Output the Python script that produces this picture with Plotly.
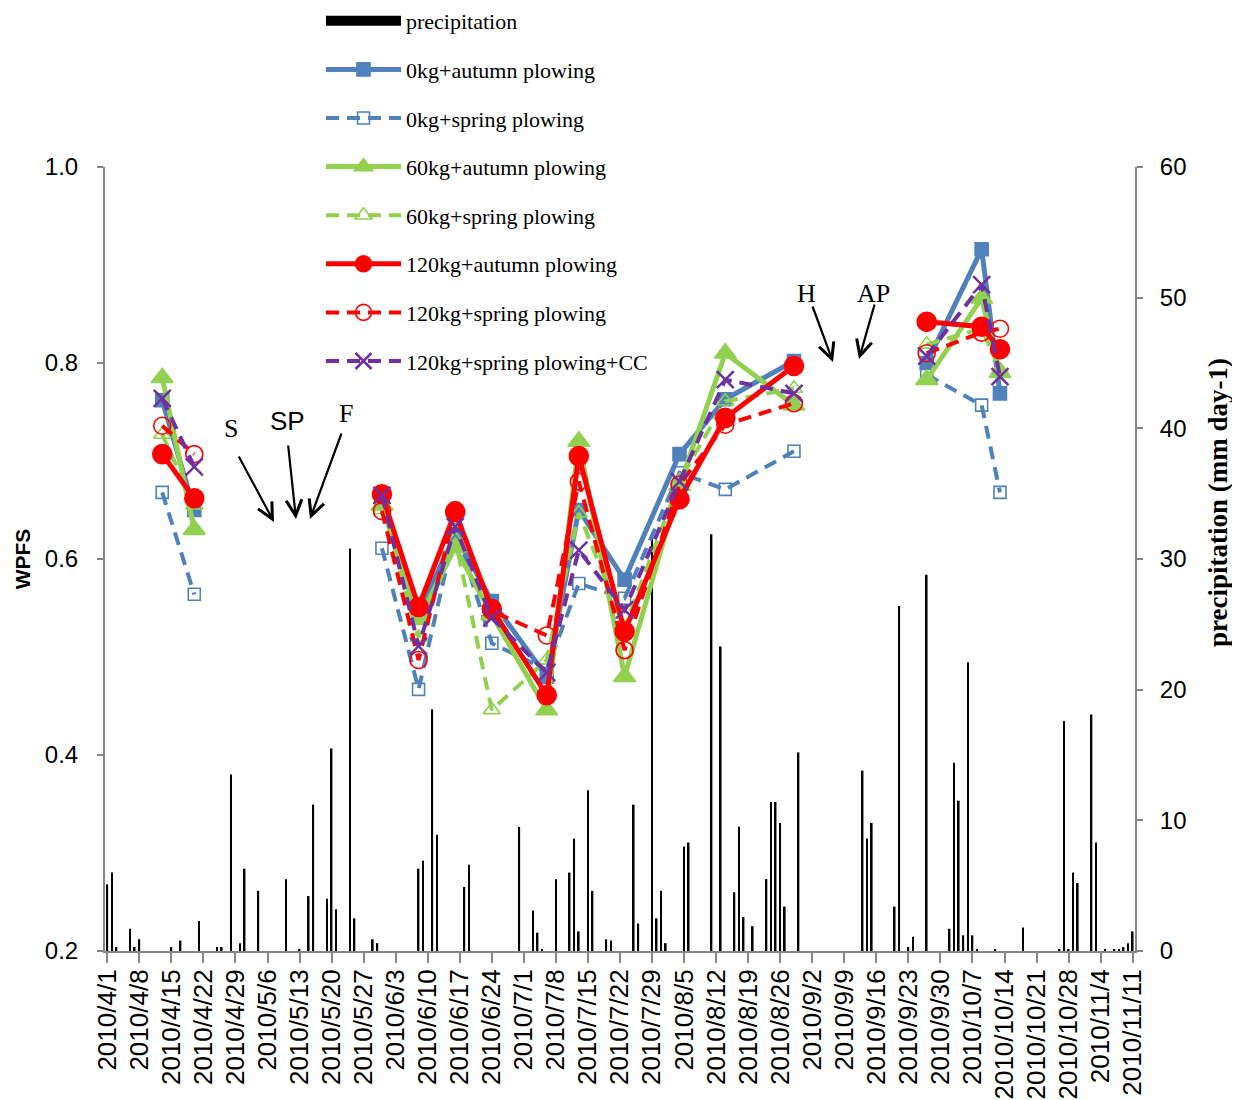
import plotly.graph_objects as go

# ---------------- data ----------------
sample_dates = ['2010-04-13', '2010-04-20',
                '2010-05-31', '2010-06-08', '2010-06-16', '2010-06-24', '2010-07-06',
                '2010-07-13', '2010-07-23', '2010-08-04', '2010-08-14', '2010-08-29',
                '2010-09-27', '2010-10-09', '2010-10-13']
group_breaks = [2, 12]  # a gap in the lines before these indices

wpfs_0kg_autumn = [0.762, 0.650, 0.660, 0.545, 0.625, 0.557, 0.480, 0.650, 0.579, 0.707, 0.763, 0.802, 0.800, 0.916, 0.769]
wpfs_0kg_spring = [0.668, 0.564, 0.611, 0.467, 0.630, 0.514, 0.487, 0.575, 0.560, 0.688, 0.671, 0.710, 0.788, 0.757, 0.668]
wpfs_60kg_autumn = [0.785, 0.630, 0.655, 0.538, 0.612, 0.543, 0.446, 0.720, 0.480, 0.675, 0.810, 0.757, 0.783, 0.866, 0.790]
wpfs_60kg_spring = [0.727, 0.655, 0.650, 0.520, 0.620, 0.446, 0.497, 0.647, 0.530, 0.680, 0.761, 0.774, 0.819, 0.835, 0.793]
wpfs_120kg_autumn = [0.707, 0.662, 0.666, 0.551, 0.648, 0.549, 0.461, 0.705, 0.526, 0.661, 0.744, 0.797, 0.842, 0.837, 0.814]
wpfs_120kg_spring = [0.736, 0.707, 0.649, 0.497, 0.650, 0.547, 0.522, 0.679, 0.507, 0.676, 0.737, 0.759, 0.810, 0.831, 0.835]
wpfs_120kg_spring_cc = [0.764, 0.694, 0.665, 0.511, 0.633, 0.540, 0.484, 0.609, 0.548, 0.679, 0.783, 0.769, 0.807, 0.880, 0.786]

precip_dates = ['2010-04-01', '2010-04-02', '2010-04-03', '2010-04-06', '2010-04-07', '2010-04-08',
                '2010-04-15', '2010-04-17', '2010-04-21', '2010-04-25', '2010-04-26', '2010-04-28',
                '2010-04-30', '2010-05-01', '2010-05-04', '2010-05-10', '2010-05-13', '2010-05-15',
                '2010-05-16', '2010-05-19', '2010-05-20', '2010-05-21', '2010-05-24', '2010-05-25',
                '2010-05-29', '2010-05-30', '2010-06-08', '2010-06-09', '2010-06-11', '2010-06-12',
                '2010-06-18', '2010-06-19', '2010-06-30', '2010-07-03', '2010-07-04', '2010-07-05',
                '2010-07-08', '2010-07-11', '2010-07-12', '2010-07-13', '2010-07-15', '2010-07-16',
                '2010-07-19', '2010-07-20', '2010-07-25', '2010-07-26', '2010-07-29', '2010-07-30',
                '2010-07-31', '2010-08-01', '2010-08-05', '2010-08-06', '2010-08-11', '2010-08-13',
                '2010-08-16', '2010-08-17', '2010-08-18', '2010-08-20', '2010-08-23', '2010-08-24',
                '2010-08-25', '2010-08-26', '2010-08-27', '2010-08-30', '2010-09-13', '2010-09-14',
                '2010-09-15', '2010-09-20', '2010-09-21', '2010-09-23', '2010-09-24', '2010-09-27',
                '2010-10-02', '2010-10-03', '2010-10-04', '2010-10-05', '2010-10-06', '2010-10-07',
                '2010-10-08', '2010-10-12', '2010-10-18', '2010-10-26', '2010-10-27', '2010-10-28',
                '2010-10-29', '2010-10-30', '2010-11-02', '2010-11-03', '2010-11-05', '2010-11-07',
                '2010-11-08', '2010-11-09', '2010-11-10', '2010-11-11']
precip_mm = [5.1, 6.0, 0.3, 1.7, 0.3, 0.9,
             0.3, 0.8, 2.3, 0.3, 0.3, 13.5,
             0.6, 6.3, 4.6, 5.5, 0.15, 4.2,
             11.2, 4.0, 15.5, 3.2, 30.8, 2.5,
             0.9, 0.6, 6.3, 6.9, 18.5, 8.9,
             4.9, 6.6, 9.5, 3.1, 1.4, 0.15,
             5.5, 6.0, 8.6, 1.5, 12.3, 4.6,
             0.9, 0.8, 11.2, 2.1, 32.0, 2.5,
             4.6, 0.6, 8.0, 8.3, 31.9, 23.3,
             4.5, 9.5, 2.6, 1.9, 5.5, 11.4,
             11.4, 9.8, 3.4, 15.2, 13.8, 8.6,
             9.8, 3.4, 26.4, 0.3, 1.1, 28.8,
             1.7, 14.4, 11.5, 1.2, 22.1, 1.2,
             0.15, 0.15, 1.8, 0.15, 17.6, 0.15,
             6.0, 5.2, 18.1, 8.3, 0.15, 0.15,
             0.15, 0.3, 0.6, 1.5]

tick_dates = ['2010-04-01', '2010-04-08', '2010-04-15', '2010-04-22', '2010-04-29', '2010-05-06',
              '2010-05-13', '2010-05-20', '2010-05-27', '2010-06-03', '2010-06-10', '2010-06-17',
              '2010-06-24', '2010-07-01', '2010-07-08', '2010-07-15', '2010-07-22', '2010-07-29',
              '2010-08-05', '2010-08-12', '2010-08-19', '2010-08-26', '2010-09-02', '2010-09-09',
              '2010-09-16', '2010-09-23', '2010-09-30', '2010-10-07', '2010-10-14', '2010-10-21',
              '2010-10-28', '2010-11-04', '2010-11-11']
tick_labels = ['2010/4/1', '2010/4/8', '2010/4/15', '2010/4/22', '2010/4/29', '2010/5/6',
               '2010/5/13', '2010/5/20', '2010/5/27', '2010/6/3', '2010/6/10', '2010/6/17',
               '2010/6/24', '2010/7/1', '2010/7/8', '2010/7/15', '2010/7/22', '2010/7/29',
               '2010/8/5', '2010/8/12', '2010/8/19', '2010/8/26', '2010/9/2', '2010/9/9',
               '2010/9/16', '2010/9/23', '2010/9/30', '2010/10/7', '2010/10/14', '2010/10/21',
               '2010/10/28', '2010/11/4', '2010/11/11']

# ---------------- layout constants ----------------
OFF = 8                      # page body margin of the html page
W, H = 1240 - OFF, 1100 - OFF
ML, MT = 105 - OFF, 167 - OFF
MR, MB = 105, 149
PW, PH = W - ML - MR, H - MT - MB

BLUE = '#4F81BD'
GREEN = '#92D050'
RED = '#FF0000'
PURPLE = '#7030A0'
AXIS = '#868686'
DASH = '13px,8px'


def with_gaps(xs, ys):
    gx, gy = [], []
    for i, (a, b) in enumerate(zip(xs, ys)):
        if i in group_breaks:
            gx.append(None)
            gy.append(None)
        gx.append(a)
        gy.append(b)
    return gx, gy


def paper(px, py):
    # page pixel -> paper coordinates
    return (px - OFF - ML) / PW, (MT + PH - (py - OFF)) / PH


fig = go.Figure()

# precipitation bars (primary y, shown on right)
fig.add_trace(go.Bar(x=precip_dates, y=precip_mm, name='precipitation',
                     marker=dict(color='black', line=dict(width=0)),
                     width=0.36 * 86400000, showlegend=False,
                     xaxis='x', yaxis='y'))
# legend entry for precipitation
fig.add_trace(go.Scatter(x=[None], y=[None], mode='lines', name='precipitation',
                         line=dict(color='black', width=12), legendgroup='g0',
                         xaxis='x', yaxis='y2'))

series = [
    ('0kg+autumn plowing', wpfs_0kg_autumn, BLUE, 'solid', 'square', 13, BLUE, 5),
    ('0kg+spring plowing', wpfs_0kg_spring, BLUE, DASH, 'square-open', 12, BLUE, 4),
    ('60kg+autumn plowing', wpfs_60kg_autumn, GREEN, 'solid', 'triangle-up', 19, GREEN, 5),
    ('60kg+spring plowing', wpfs_60kg_spring, GREEN, DASH, 'triangle-up-open', 15, GREEN, 4),
    ('120kg+autumn plowing', wpfs_120kg_autumn, RED, 'solid', 'circle', 19, RED, 5),
    ('120kg+spring plowing', wpfs_120kg_spring, RED, DASH, 'circle-open', 17, RED, 4),
    ('120kg+spring plowing+CC', wpfs_120kg_spring_cc, PURPLE, DASH, 'x-thin-open', 17, PURPLE, 4),
]
for i, (name, vals, col, dash, sym, size, mcol, lw) in enumerate(series):
    gx, gy = with_gaps(sample_dates, vals)
    fig.add_trace(go.Scatter(
        x=gx, y=gy, name=name, mode='lines+markers', connectgaps=False,
        line=dict(color=col, width=lw, dash=dash),
        marker=dict(symbol=sym, size=size, color=mcol,
                    line=dict(color=mcol, width=2.5 if 'x-thin' in sym else 1.6)),
        legendgroup='g%d' % (i + 1), xaxis='x', yaxis='y2'))

# ---------------- annotations: field operations ----------------
anns = []
labels = [('S', 231, 428, 'Liberation Serif'), ('SP', 287, 421, 'Liberation Sans'),
          ('F', 346, 413, 'Liberation Serif'), ('H', 806, 293, 'Liberation Serif'),
          ('AP', 873, 293, 'Liberation Serif')]
for txt, px, py, fam in labels:
    xp, yp = paper(px, py)
    anns.append(dict(text=txt, x=xp, y=yp, xref='paper', yref='paper', showarrow=False,
                     font=dict(family=fam, size=26, color='black'),
                     xanchor='center', yanchor='middle'))
arrows = [((238, 455), (274, 522)), ((288, 444), (296, 519)), ((342, 432), (310, 519)),
          ((812, 305), (833, 362)), ((875, 303), (859, 359))]
for (tx, ty), (hx, hy) in arrows:
    xp, yp = paper(hx, hy)
    anns.append(dict(text='', x=xp, y=yp, xref='paper', yref='paper', showarrow=True,
                     ax=tx - hx, ay=ty - hy, axref='pixel', ayref='pixel',
                     arrowhead=5, arrowsize=1.4, arrowwidth=2.2, arrowcolor='black'))

# right axis title (placed like the original, above the axis centre)
tx_, ty_ = paper(1218, 503)
anns.append(dict(text='<b>precipitation (mm day-1)</b>', x=tx_, y=ty_, xref='paper', yref='paper',
                 showarrow=False, textangle=-90, xanchor='center', yanchor='middle',
                 font=dict(family='Liberation Serif', size=27, color='black')))

fig.update_layout(
    width=W, height=H,
    margin=dict(l=ML, r=MR, t=MT, b=MB, pad=0, autoexpand=False),
    paper_bgcolor='white', plot_bgcolor='white',
    showlegend=True,
    legend=dict(x=paper(321, 0)[0], y=paper(0, 0)[1], xanchor='left', yanchor='top',
                bgcolor='rgba(0,0,0,0)', font=dict(family='Liberation Serif', size=22, color='black'),
                itemwidth=75, tracegroupgap=17, traceorder='grouped', itemsizing='trace'),
    xaxis=dict(type='date', range=['2010-03-31 12:00', '2010-11-11 12:00'],
               tickmode='array', tickvals=tick_dates, ticktext=tick_labels, tickangle=-90,
               tickfont=dict(family='Liberation Sans', size=26, color='black'),
               ticks='outside', ticklen=10, tickcolor=AXIS, tickwidth=2,
               showline=True, linecolor=AXIS, linewidth=2, showgrid=False, zeroline=False,
               anchor='y', ticklabelstandoff=-4, automargin=False),
    yaxis=dict(range=[0, 60], dtick=10, side='right', showgrid=False, zeroline=False,
               showline=True, linecolor=AXIS, linewidth=2, ticks='outside', ticklen=6,
               tickcolor=AXIS, tickwidth=2, automargin=False,
               tickfont=dict(family='Liberation Sans', size=24, color='black'),
               ticklabelstandoff=12),
    yaxis2=dict(range=[0.2, 1.0], dtick=0.2, tickformat='.1f', side='left', overlaying='y',
                showgrid=False, zeroline=False, showline=True, linecolor=AXIS, linewidth=2,
                ticks='outside', ticklen=6, tickcolor=AXIS, tickwidth=2, automargin=False,
                tickfont=dict(family='Liberation Sans', size=24, color='black'),
                title=dict(text='WPFS', standoff=8,
                           font=dict(family='Liberation Sans', size=21, color='black', weight='bold')),
                ticklabelstandoff=14),
    annotations=anns,
)

fig.write_html('out.html')
